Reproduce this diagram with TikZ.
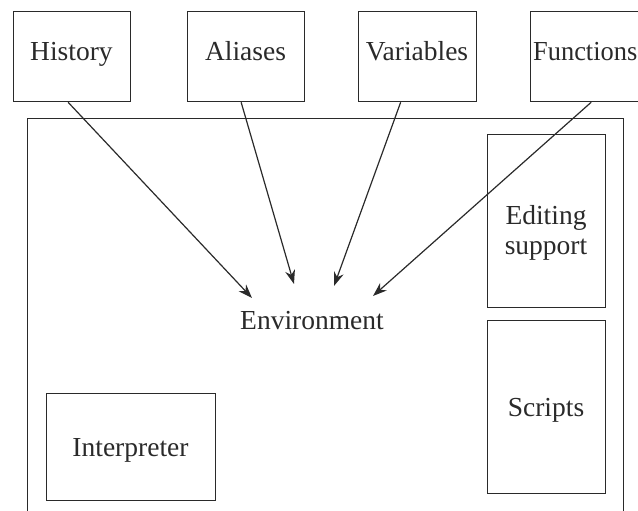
\documentclass[tikz,border=0pt]{standalone}
\usepackage{fontspec}
\setmainfont{Liberation Serif}
\usetikzlibrary{arrows.meta}
\definecolor{ink}{HTML}{2A2A2A}
\begin{document}
\begin{tikzpicture}[x=1pt,y=-1pt,
  box/.style={draw=ink,line width=1.3pt,rectangle,inner sep=0pt},
  lbl/.style={text=ink,font=\fontsize{27.5}{32}\selectfont,align=center,anchor=base,inner sep=0pt},
  arr/.style={draw=ink,line width=1.2pt,-{Stealth[length=14pt,width=10pt]}}]
\useasboundingbox (0,0) rectangle (638,511);
\clip (0,0) rectangle (638,511);
% outer frame
\node[box,minimum width=596pt,minimum height=420pt,anchor=north west] (frame) at (27,118) {};
% top boxes
\node[box,minimum width=117pt,minimum height=90pt,anchor=north west] (hist) at (13,11) {};
\node[lbl] (thist) at (71.5,61) {History};
\node[box,minimum width=117pt,minimum height=90pt,anchor=north west] (alias) at (187,11) {};
\node[lbl] (talias) at (245.5,61) {Aliases};
\node[box,minimum width=118pt,minimum height=90pt,anchor=north west] (vars) at (358,11) {};
\node[lbl] (tvars) at (417,61) {Variables};
\node[box,minimum width=117pt,minimum height=90pt,anchor=north west] (func) at (530,11) {};
\node[lbl,anchor=base west,xscale=0.96] (tfunc) at (533,61) {Functions};
% right boxes
\node[box,minimum width=118pt,minimum height=173pt,anchor=north west] (edit) at (487,134) {};
\node[lbl] (tedit1) at (546,224) {Editing};
\node[lbl] (tedit2) at (546,254) {support};
\node[box,minimum width=118pt,minimum height=173pt,anchor=north west] (scripts) at (487,320) {};
\node[lbl] (tscripts) at (546,416) {Scripts};
% interpreter
\node[box,minimum width=169pt,minimum height=107pt,anchor=north west] (interp) at (46,393) {};
\node[lbl] (tinterp) at (130.5,456) {Interpreter};
% environment
\node[lbl] (env) at (312,329) {Environment};
\coordinate (e1) at (252,298);
\coordinate (e2) at (294,284);
\coordinate (e3) at (334,286);
\coordinate (e4) at (373,296);
\draw[arr] ([xshift=-4pt]hist.south) -- (e1);
\draw[arr] ([xshift=-5pt]alias.south) -- (e2);
\draw[arr] ([xshift=-17pt]vars.south) -- (e3);
\draw[arr] ([xshift=2pt]func.south) -- (e4);
\end{tikzpicture}
\end{document}
